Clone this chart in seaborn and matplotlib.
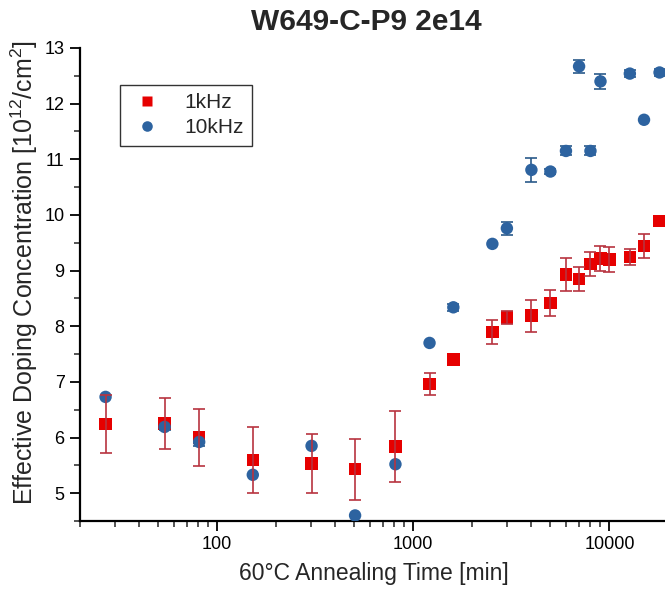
import matplotlib
matplotlib.use("Agg")
import matplotlib.pyplot as plt
import matplotlib.ticker as mticker
import seaborn as sns
import pandas as pd
import numpy as np

# ---- data ----
t_1k = [27, 54, 81, 152, 303, 505, 811, 1210, 1600, 2530, 3000, 4000, 5000, 6000,
        7000, 8000, 9000, 10000, 12700, 15000, 18000]
n_1k = [6.24, 6.25, 6.00, 5.60, 5.53, 5.43, 5.84, 6.96, 7.40, 7.90, 8.16, 8.19, 8.42,
        8.93, 8.85, 9.12, 9.22, 9.20, 9.24, 9.44, 9.89]
e_1k = [0.52, 0.46, 0.52, 0.59, 0.53, 0.55, 0.64, 0.20, 0.0, 0.22, 0.12, 0.29, 0.24,
        0.29, 0.21, 0.22, 0.23, 0.22, 0.14, 0.21, 0.0]

t_10k = [27, 54, 81, 152, 303, 505, 811, 1210, 1600, 2530, 3000, 4000, 5000, 6000,
         7000, 8000, 9000, 12700, 15000, 18000]
n_10k = [6.73, 6.19, 5.92, 5.33, 5.85, 4.60, 5.52, 7.70, 8.34, 9.48, 9.76, 10.81,
         10.78, 11.15, 12.67, 11.15, 12.40, 12.54, 11.71, 12.56]
e_10k = [0.0, 0.05, 0.08, 0.0, 0.0, 0.0, 0.0, 0.0, 0.06, 0.0, 0.12, 0.22, 0.05,
         0.08, 0.12, 0.08, 0.14, 0.06, 0.0, 0.07]

series_names = ["1kHz", "10kHz"]
title = "W649-C-P9 2e14"
xlabel = "60°C Annealing Time [min]"
ylabel = "Effective Doping Concentration [10$^{12}$/cm$^2$]"

df = pd.concat([
    pd.DataFrame({"t": t_1k, "n": n_1k, "err": e_1k, "series": series_names[0]}),
    pd.DataFrame({"t": t_10k, "n": n_10k, "err": e_10k, "series": series_names[1]}),
], ignore_index=True)

sns.set_theme(style="ticks")
plt.rcParams["font.family"] = ["Liberation Sans", "DejaVu Sans"]
plt.rcParams["mathtext.fontset"] = "custom"
plt.rcParams["mathtext.rm"] = "Liberation Sans"

RED = "#e60000"
BLUE = "#2d63a0"
RED_ERR = "#b8333f"
BLUE_ERR = "#2a5a8a"

fig = plt.figure(figsize=(6.65, 5.97), dpi=100)
ax = fig.add_axes([0.1203, 0.1273, 0.885, 0.7923])

palette = {series_names[0]: RED, series_names[1]: BLUE}
markers = {series_names[0]: "s", series_names[1]: "o"}

sns.scatterplot(data=df, x="t", y="n", hue="series", style="series",
                palette=palette, markers=markers, s=80, edgecolor="none",
                ax=ax, zorder=3, legend=True)

d1 = df[(df["series"] == series_names[0]) & (df["err"] > 0)]
d2 = df[(df["series"] == series_names[1]) & (df["err"] > 0)]
ax.errorbar(d1["t"], d1["n"], yerr=d1["err"], fmt="none", ecolor=RED_ERR,
            elinewidth=1.2, capsize=4, capthick=1.2, zorder=5)
ax.errorbar(d2["t"], d2["n"], yerr=d2["err"], fmt="none", ecolor=BLUE_ERR,
            elinewidth=1.2, capsize=4, capthick=1.2, zorder=2)

ax.set_xscale("log")
ax.set_xlim(20, 20000)
ax.set_ylim(4.5, 13)
ax.yaxis.set_major_locator(mticker.MultipleLocator(1))
ax.yaxis.set_minor_locator(mticker.MultipleLocator(0.5))
ax.xaxis.set_major_locator(mticker.FixedLocator([100, 1000, 10000]))
ax.xaxis.set_major_formatter(mticker.FuncFormatter(lambda v, p: f"{int(v)}"))
ax.xaxis.set_minor_locator(mticker.LogLocator(base=10, subs=np.arange(2, 10)))
ax.xaxis.set_minor_formatter(mticker.NullFormatter())

ax.tick_params(axis="both", which="major", direction="out", length=7, width=1.3,
               labelsize=13, colors="black", pad=4)
ax.tick_params(axis="both", which="minor", direction="out", length=4, width=1.1)
for side in ["top", "right"]:
    ax.spines[side].set_visible(False)
for side in ["left", "bottom"]:
    ax.spines[side].set_linewidth(1.6)
    ax.spines[side].set_color("black")

ax.set_xlabel(xlabel, fontsize=16.5, labelpad=6)
ax.set_ylabel(ylabel, fontsize=18)
ax.yaxis.set_label_coords(-0.068, 0.526)
fig.text(0.551, 0.963, title, ha="center", va="center", fontsize=21.5, fontweight="bold")

leg = ax.legend(loc="upper left", bbox_to_anchor=(0.068, 0.922), frameon=True,
                fancybox=False, edgecolor="black", fontsize=15, markerscale=0.85,
                handletextpad=0.9, handlelength=1.8, borderpad=0.4,
                labelspacing=0.3, borderaxespad=0)
leg.get_frame().set_linewidth(1.0)
leg.set_title(None)

fig.savefig("out.png", dpi=100)
